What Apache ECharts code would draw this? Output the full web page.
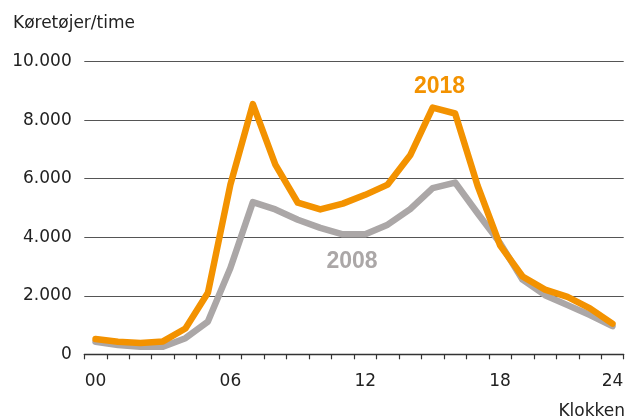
<!DOCTYPE html>
<html>
<head>
<meta charset="utf-8">
<script src="https://cdn.jsdelivr.net/npm/echarts@6/dist/echarts.min.js"></script>
<style>
html,body{margin:0;padding:0;background:#fff;}
#chart{width:627px;height:420px;}
</style>
</head>
<body>
<div id="chart"></div>
<script>
const hours = ['00','01','02','03','04','05','06','07','08','09','10','11','12','13','14','15','16','17','18','19','20','21','22','23'];
const tickLabels = {0:'00', 6:'06', 12:'12', 18:'18', 23:'24'};
const yTicks = [0, 2000, 4000, 6000, 8000, 10000];
const values2018 = [520, 430, 390, 440, 880, 2100, 5800, 8550, 6480, 5180, 4950, 5150, 5450, 5800, 6800, 8430, 8230, 5760, 3720, 2660, 2210, 1960, 1570, 1050];
const values2008 = [430, 320, 260, 260, 550, 1120, 2950, 5200, 4950, 4600, 4320, 4100, 4100, 4430, 4960, 5680, 5870, 4820, 3800, 2550, 2020, 1680, 1340, 960];
const seriesNames = ['2008', '2018'];
const yTitle = 'Køretøjer/time';
const xTitle = 'Klokken';

const ORANGE = '#F39200';
const GRAY = '#ABA7A7';
const TEXT = '#222';
const FONT = 'DejaVu Sans';

function fmt(v){ return String(v).replace(/\B(?=(\d{3})+(?!\d))/g, '.'); }

const chart = echarts.init(document.getElementById('chart'), null, {renderer:'canvas'});
chart.setOption({
  animation: false,
  backgroundColor: '#fff',
  grid: {left: 84.3, right: 3.3, top: 61.7, bottom: 65.7, containLabel: false},
  xAxis: {
    type: 'category',
    data: hours,
    boundaryGap: true,
    axisLine: {show: true, lineStyle: {color: '#333', width: 1.3}},
    axisTick: {show: true, interval: 0, length: 5, lineStyle: {color: '#333', width: 1.2}},
    axisLabel: {
      interval: function(idx){ return tickLabels[idx] !== undefined; },
      formatter: function(val, idx){ return tickLabels[idx] !== undefined ? tickLabels[idx] : ''; },
      color: TEXT, fontFamily: FONT, fontSize: 17, margin: 19
    },
    splitLine: {show: false}
  },
  yAxis: {
    type: 'value',
    min: yTicks[0], max: yTicks[yTicks.length-1], interval: 2000,
    axisLine: {show: false},
    axisTick: {show: false},
    axisLabel: {formatter: fmt, color: TEXT, fontFamily: FONT, fontSize: 17, margin: 12.6},
    splitLine: {show: true, lineStyle: {color: '#555', width: 1.2}}
  },
  series: [
    {
      name: seriesNames[0], type: 'line', data: values2008, symbol: 'none', smooth: false,
      lineStyle: {color: GRAY, width: 6.5, cap: 'round', join: 'round'}, z: 2
    },
    {
      name: seriesNames[1], type: 'line', data: values2018, symbol: 'none', smooth: false,
      lineStyle: {color: ORANGE, width: 6.5, cap: 'round', join: 'round'}, z: 3
    }
  ],
  graphic: [
    {type: 'text', left: 13, top: 15, style: {text: yTitle, fill: TEXT, font: '17px "DejaVu Sans"'}},
    {type: 'text', right: 2, top: 403, style: {text: xTitle, fill: TEXT, font: '17px "DejaVu Sans"'}},
    {type: 'text', x: 439.5, y: 87, style: {text: seriesNames[1], fill: ORANGE, font: 'bold 23px "Liberation Sans"', align: 'center', verticalAlign: 'middle'}},
    {type: 'text', x: 352, y: 262, style: {text: seriesNames[0], fill: GRAY, font: 'bold 23px "Liberation Sans"', align: 'center', verticalAlign: 'middle'}}
  ]
});
</script>
</body>
</html>
